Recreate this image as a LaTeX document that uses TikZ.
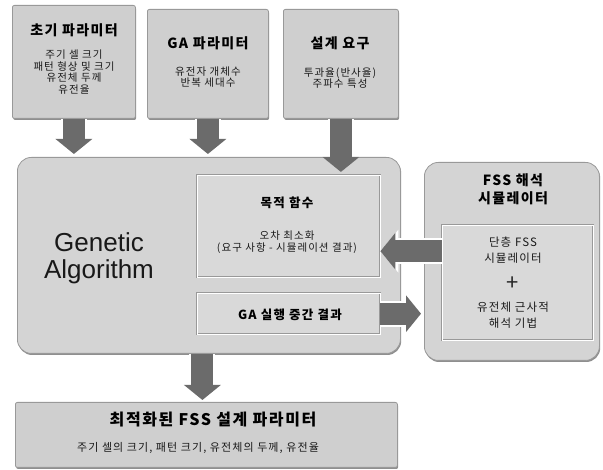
\documentclass[tikz,border=0pt]{standalone}
\usepackage{fontspec}
\setmainfont{Noto Sans CJK KR}[LetterSpace=10]
\newfontfamily\arialf{Liberation Sans}
\usetikzlibrary{arrows.meta,calc,shadows}
\begin{document}
\begin{tikzpicture}[x=1pt,y=-1pt,
  panel/.style={draw=black!40, fill=black!19, line width=0.8pt, rounded corners=2pt, anchor=north west, inner sep=0pt,
    drop shadow={shadow xshift=0.8pt, shadow yshift=-1.6pt, fill=black!55, opacity=0.8}},
  bigpanel/.style={panel, rounded corners=14pt, fill=black!17},
  innerbox/.style={draw=black!40, double=white, double distance=1.2pt, fill=black!15, anchor=north west, inner sep=0pt},
  ttl/.style={font=\bfseries\fontsize{14}{18}\selectfont, text=black, align=center},
  ttls/.style={font=\bfseries\fontsize{12.5}{15}\selectfont, text=black, align=center},
  body/.style={font=\fontsize{10.5}{11.5}\selectfont, align=center, text=black!90},
  bodyl/.style={font=\fontsize{11.5}{15.5}\selectfont, align=center, text=black!90},
  flow/.style={line width=22pt, draw=black!58, -{Triangle[length=15pt,width=36pt]},
    preaction={draw=white, line width=26pt, -{Triangle[length=18pt,width=42pt]}}}
]
\useasboundingbox (0,0) rectangle (603,470);

% panels
\node[panel, minimum width=123pt, minimum height=113pt] (p1) at (12,5) {};
\node[panel, minimum width=121pt, minimum height=109pt] (p2) at (147,9) {};
\node[panel, minimum width=115pt, minimum height=109pt] (p3) at (283,9) {};
\node[bigpanel, minimum width=383pt, minimum height=196pt] (ga) at (17,157) {};
\node[innerbox, minimum width=183pt, minimum height=102pt] (obj) at (197,175) {};
\node[innerbox, minimum width=183pt, minimum height=41pt] (mid) at (197,293) {};
\node[bigpanel, minimum width=175pt, minimum height=198pt] (fss) at (424,162) {};
\node[innerbox, minimum width=151pt, minimum height=115pt] (fin) at (442,225) {};
\node[panel, minimum width=382pt, minimum height=65pt] (out) at (15,402) {};

% texts
\node[ttl] (t1) at (74,30) {초기 파라미터};
\node[body] (b1) at (74,72) {주기 셀 크기\\패턴 형상 및 크기\\유전체 두께\\유전율};
\node[ttl] (t2) at (208,43) {GA 파라미터};
\node[body] (b2) at (208,77) {유전자 개체수\\반복 세대수};
\node[ttl] (t3) at (340,43) {설계 요구};
\node[body] (b3) at (340,78) {투과율(반사율)\\주파수 특성};
\node[font=\arialf\fontsize{26}{27}\selectfont, align=center, text=black!90] (gat) at (99,258) {Genetic\\Algorithm};
\node[ttls] (t4) at (287,203) {목적 함수};
\node[body] (b4) at (287,242) {오차 최소화\\(요구 사항 - 시뮬레이션 결과)};
\node[ttls] (t5) at (290,315) {GA 실행 중간 결과};
\node[ttl] (t6) at (513,189) {FSS 해석\\시뮬레이터};
\node[bodyl] (b6) at (513,250) {단층 FSS\\시뮬레이터};
\node[font=\fontsize{22}{22}\selectfont, text=black!85] (plus) at (513,284) {+};
\node[bodyl] (b7) at (513,315) {유전체 근사적\\해석 기법};
\node[ttl, font=\bfseries\fontsize{16}{18}\selectfont] (t8) at (213,420) {최적화된 FSS 설계 파라미터};
\node[body, font=\fontsize{11}{13}\selectfont] (b8) at (198,448) {주기 셀의 크기, 패턴 크기, 유전체의 두께, 유전율};

% arrows
\draw[flow, shorten >=3pt] (p1.south) -- (ga.north -| p1.south);
\draw[flow, shorten >=3pt] (p2.south) -- (ga.north -| p2.south);
\draw[flow, shorten >=3pt] (p3.south) -- (obj.north -| p3.south);
\path (fin.west) ++(0,-31.5) coordinate (la);
\draw[flow] (la) -- (la -| obj.east);
\draw[flow, shorten >=3pt] (mid.east) -- (fss.west |- mid.east);
\path (ga.south) ++(-6.5,0) coordinate (da);
\draw[flow, shorten >=2pt] (da) -- (da |- out.north);
\end{tikzpicture}
\end{document}
